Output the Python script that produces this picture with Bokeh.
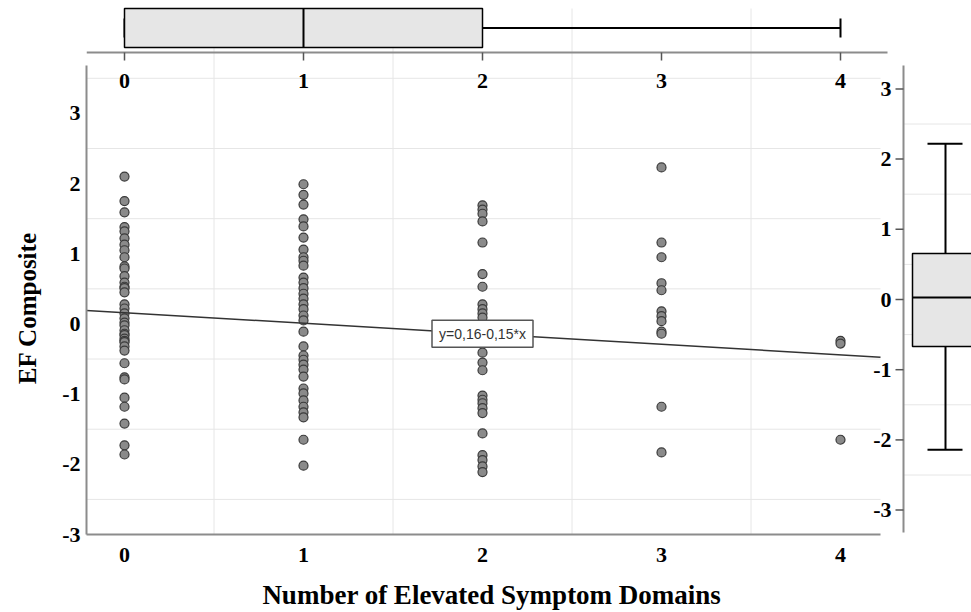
from bokeh.plotting import figure
from bokeh.models import Range1d, LinearAxis, FixedTicker
from bokeh.core.properties import value
from bokeh.embed import file_html
from bokeh.resources import INLINE

# ---------------- data ----------------
domains = [0, 1, 2, 3, 4]
ef_0 = [2.10, 1.75, 1.59, 1.38, 1.32, 1.22, 1.13, 1.05, 0.95, 0.82, 0.79, 0.68,
        0.59, 0.53, 0.51, 0.45, 0.28, 0.22, 0.15, 0.08, 0.02, -0.02, -0.09, -0.14,
        -0.16, -0.21, -0.24, -0.26, -0.32, -0.38, -0.56, -0.76, -0.79, -1.05,
        -1.18, -1.42, -1.73, -1.86]
ef_1 = [1.99, 1.84, 1.70, 1.49, 1.39, 1.23, 1.06, 0.95, 0.90, 0.83, 0.66, 0.59,
        0.51, 0.43, 0.36, 0.28, 0.21, 0.12, 0.05, -0.11, -0.32, -0.45, -0.51,
        -0.58, -0.65, -0.75, -0.92, -0.99, -1.09, -1.18, -1.26, -1.33, -1.65, -2.02]
ef_2 = [1.69, 1.63, 1.57, 1.46, 1.16, 0.71, 0.53, 0.28, 0.21, 0.15, 0.09, -0.06,
        -0.41, -0.55, -0.66, -1.02, -1.08, -1.13, -1.20, -1.27, -1.56, -1.87,
        -1.94, -2.03, -2.11]
ef_3 = [2.23, 1.16, 0.95, 0.58, 0.48, 0.18, 0.11, 0.04, -0.11, -0.14, -1.18, -1.83]
ef_4 = [-0.24, -0.28, -1.65]
ef_groups = [ef_0, ef_1, ef_2, ef_3, ef_4]

x_ticks = [0, 1, 2, 3, 4]
y_ticks = [-3, -2, -1, 0, 1, 2, 3]
x_title = "Number of Elevated Symptom Domains"
y_title = "EF Composite"

reg_intercept = 0.16
reg_slope = -0.15
reg_text = "y=0,16-0,15*x"

# boxplot statistics: [lower whisker, Q1, median, Q3, upper whisker]
domains_box = [0, 0, 1, 2, 4]
ef_box = [-2.14, -0.67, 0.03, 0.655, 2.22]

# ---------------- layout (page pixels) ----------------
W, H = 971, 612
FRAME_L, FRAME_R, FRAME_T, FRAME_B = 86, 971, 0, 534
X0_PX, X_PX = 124.0, 179.0          # main x scale
Y0_PX, Y_PX = 323.5, 70.2           # main y scale
RY0_PX = 299.0                      # right panel y scale (same px/unit)
MAIN_RIGHT = 880                    # right end of main panel
NBSP = "\u00a0"


def sx_to_x(px):
    return (px - X0_PX) / X_PX


def sy_to_y(py):
    return (Y0_PX - py) / Y_PX


x_lo, x_hi = sx_to_x(FRAME_L), sx_to_x(FRAME_R)
x_main_hi = sx_to_x(MAIN_RIGHT)
y_lo, y_hi = -3.0, sy_to_y(FRAME_T)

p = figure(width=W, height=H, output_backend="svg", toolbar_location=None,
           x_range=Range1d(x_lo, x_hi), y_range=Range1d(y_lo, y_hi),
           x_axis_type=None, y_axis_type=None,
           min_border_left=FRAME_L, min_border_right=W - FRAME_R,
           min_border_top=FRAME_T, min_border_bottom=H - FRAME_B)
p.outline_line_color = None
p.background_fill_color = "white"
p.border_fill_color = "white"
p.extra_x_ranges = {"sx": Range1d(FRAME_L, FRAME_R)}
p.extra_y_ranges = {"sy": Range1d(FRAME_B, FRAME_T),
                    "right": Range1d((RY0_PX - FRAME_B) / Y_PX, (RY0_PX - FRAME_T) / Y_PX)}

SERIF = "Liberation Serif"
GRID = "#e6e6e6"
AXIS = "#8c8c8c"

# ---------------- main axes ----------------
# trailing no-break spaces shift the centred titles to where the reference has them
yax = LinearAxis(ticker=FixedTicker(ticks=y_ticks), bounds=(-3, sy_to_y(65)),
                 axis_label=y_title + NBSP * 13,
                 major_label_overrides={t: str(t) for t in y_ticks})
xax = LinearAxis(ticker=FixedTicker(ticks=x_ticks), bounds=(x_lo, x_main_hi),
                 axis_label=x_title + NBSP * 11,
                 major_label_overrides={t: str(t) for t in x_ticks})
for ax in (yax, xax):
    ax.axis_line_color = AXIS
    ax.axis_line_width = 2
    ax.major_tick_line_color = None
    ax.minor_tick_line_color = None
    ax.major_tick_out = 0
    ax.major_tick_in = 0
    ax.major_label_text_font = SERIF
    ax.major_label_text_font_style = "bold"
    ax.major_label_text_font_size = "22px"
    ax.major_label_text_color = "black"
    ax.axis_label_text_font = SERIF
    ax.axis_label_text_font_style = "bold"
    ax.axis_label_text_color = "black"
yax.axis_label_text_font_size = "25px"
xax.axis_label_text_font_size = "27px"
yax.major_label_standoff = 6
yax.axis_label_standoff = 18
xax.major_label_standoff = 13
xax.axis_label_standoff = 15
p.add_layout(yax, "left")
p.add_layout(xax, "below")

# ---------------- grid lines ----------------
h_grid = [t + 0.5 for t in y_ticks]
v_grid = [t + 0.5 for t in x_ticks[:-1]]
p.segment(x0=[x_lo] * len(h_grid), y0=h_grid, x1=[x_main_hi] * len(h_grid), y1=h_grid,
          line_color=GRID, line_width=1)
p.segment(x0=v_grid, y0=[y_lo] * len(v_grid), x1=v_grid, y1=[sy_to_y(8)] * len(v_grid),
          line_color=GRID, line_width=1)
r_grid = [t + 0.5 for t in y_ticks[:-1]]
p.segment(x0=[903] * len(r_grid), y0=r_grid, x1=[FRAME_R] * len(r_grid), y1=r_grid,
          x_range_name="sx", y_range_name="right", line_color=GRID, line_width=1)

# ---------------- scatter ----------------
xs, ys = [], []
for d, grp in zip(domains, ef_groups):
    xs += [d] * len(grp)
    ys += grp
p.scatter(xs, ys, size=9, fill_color="#8a8a8a", line_color="#3a3a3a", line_width=1.2)

# ---------------- regression line and label ----------------
rx = [x_lo, x_main_hi]
p.line(rx, [reg_intercept + reg_slope * v for v in rx], line_color="#333333", line_width=1.5)
lab_x = 2.0
lab_y = reg_intercept + reg_slope * lab_x
p.rect(x=[lab_x], y=[lab_y], width=101, height=27, width_units="screen", height_units="screen",
       fill_color="white", line_color="#555555", line_width=1.5)
p.text(x=[lab_x], y=[lab_y], text=[reg_text], text_align="center", text_baseline="middle",
       text_font=value("Liberation Sans"), text_font_size="14px", text_color="#333333")

# ---------------- top box plot (x distribution) ----------------
lo, q1, med, q3, hi = domains_box
p.segment(x0=[86], y0=[52], x1=[887], y1=[52], x_range_name="sx", y_range_name="sy",
          line_color=AXIS, line_width=2)
p.segment(x0=x_ticks, y0=[52] * 5, x1=x_ticks, y1=[60] * 5, y_range_name="sy",
          line_color="#555555", line_width=1.5)
p.text(x=x_ticks, y=[80] * 5, text=[str(t) for t in x_ticks], y_range_name="sy",
       text_align="center", text_baseline="middle", text_font=value(SERIF),
       text_font_style="bold", text_font_size="22px", text_color="black")
p.segment(x0=[q3, lo], y0=[27.5, 27.5], x1=[hi, q1], y1=[27.5, 27.5], y_range_name="sy",
          line_color="black", line_width=2)
p.segment(x0=[hi, lo], y0=[18, 18], x1=[hi, lo], y1=[37, 37], y_range_name="sy",
          line_color="black", line_width=2)
p.quad(left=[q1], right=[q3], top=[8], bottom=[47], y_range_name="sy",
       fill_color="#e6e6e6", line_color="black", line_width=1.5)
p.segment(x0=[med], y0=[8], x1=[med], y1=[47], y_range_name="sy",
          line_color="black", line_width=2)

# ---------------- right box plot (EF distribution) ----------------
rlo, rq1, rmed, rq3, rhi = ef_box
p.segment(x0=[903], y0=[65], x1=[903], y1=[532], x_range_name="sx", y_range_name="sy",
          line_color=AXIS, line_width=2)
p.segment(x0=[895] * len(y_ticks), y0=y_ticks, x1=[903] * len(y_ticks), y1=y_ticks,
          x_range_name="sx", y_range_name="right", line_color="#555555", line_width=1.5)
p.text(x=[891] * len(y_ticks), y=y_ticks, text=[str(t) for t in y_ticks],
       x_range_name="sx", y_range_name="right", text_align="right", text_baseline="middle",
       text_font=value(SERIF), text_font_style="bold", text_font_size="22px", text_color="black")
p.segment(x0=[945, 945], y0=[rq3, rq1], x1=[945, 945], y1=[rhi, rlo],
          x_range_name="sx", y_range_name="right", line_color="black", line_width=2)
p.segment(x0=[927, 927], y0=[rhi, rlo], x1=[962, 962], y1=[rhi, rlo],
          x_range_name="sx", y_range_name="right", line_color="black", line_width=2)
p.quad(left=[912], right=[978], bottom=[rq1], top=[rq3], x_range_name="sx", y_range_name="right",
       fill_color="#e6e6e6", line_color="black", line_width=1.5)
p.segment(x0=[912], y0=[rmed], x1=[978], y1=[rmed], x_range_name="sx", y_range_name="right",
          line_color="black", line_width=2)

open("out.html", "w").write(file_html(p, INLINE))
